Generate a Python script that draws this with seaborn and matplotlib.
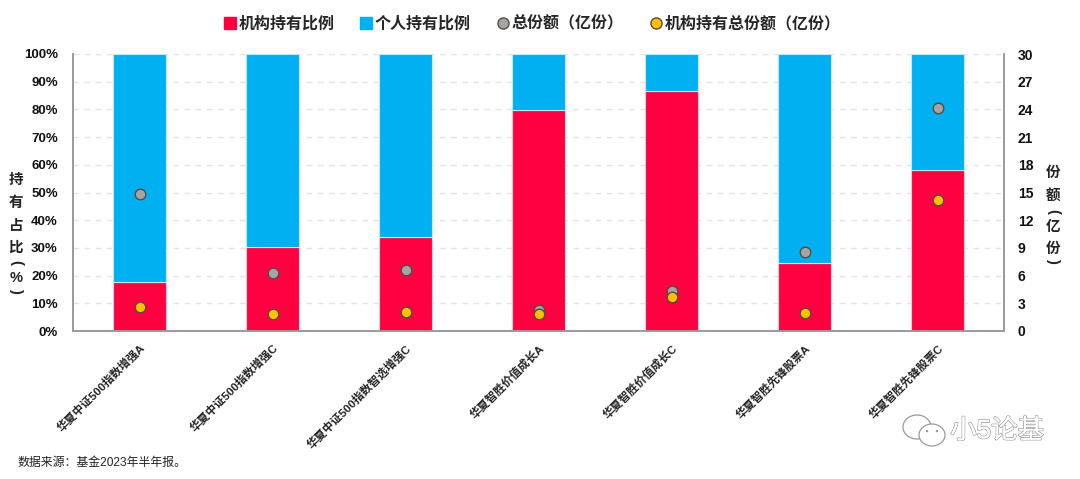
import matplotlib
matplotlib.use('Agg')
import matplotlib.pyplot as plt
import matplotlib.patheffects as pe
from matplotlib.lines import Line2D
from matplotlib.patches import Ellipse
import seaborn as sns
import pandas as pd

funds = ['华夏中证500指数增强A', '华夏中证500指数增强C', '华夏中证500指数智选增强C',
         '华夏智胜价值成长A', '华夏智胜价值成长C', '华夏智胜先锋股票A', '华夏智胜先锋股票C']
inst_pct = [17.7, 30.3, 33.8, 79.8, 86.5, 24.5, 58.3]
pers_pct = [82.3, 69.7, 66.2, 20.2, 13.5, 75.5, 41.7]
total_share = [14.8, 6.3, 6.6, 2.3, 4.3, 8.6, 24.2]
inst_share = [2.6, 1.8, 2.1, 1.8, 3.7, 2.0, 14.2]

RED = '#FF0040'
BLUE = '#00B0F0'
GREY = '#A5A5A5'
ORANGE = '#FFC000'
EDGE = '#5A4A42'
AXIS = '#9A9A9A'
FONT = ['Liberation Sans', 'Noto Sans CJK SC']

sns.set_theme(style='white')
plt.rcParams['font.family'] = FONT
plt.rcParams['font.weight'] = 'bold'
plt.rcParams['axes.unicode_minus'] = False

df = pd.DataFrame({'fund': funds, 'inst': inst_pct, 'pers': pers_pct,
                   'total': total_share, 'inst_total': inst_share})

W, H = 1080, 479
fig = plt.figure(figsize=(W / 100, H / 100), dpi=100)
ax = fig.add_axes([73 / W, 1 - 331 / H, (1004 - 73) / W, (331 - 54) / H])

# 堆叠柱
sns.barplot(data=df, x='fund', y='inst', color=RED, width=0.4, saturation=1,
            linewidth=0.8, edgecolor='#FFD0DC', ax=ax, zorder=2)
sns.barplot(data=df, x='fund', y='pers', bottom=df['inst'], color=BLUE, width=0.4, saturation=1,
            linewidth=0.8, edgecolor='#BFEBFB', ax=ax, zorder=2)

ax.set_xlim(-0.5, 6.5)
ax.set_ylim(0, 100)
ax.set_yticks(range(0, 101, 10))
ax.set_yticklabels([f'{v}%' for v in range(0, 101, 10)], fontsize=9.5, fontweight='bold', color='#111111')
ax.set_xlabel('')
ax.set_ylabel('')
ax.grid(axis='y', linestyle=(0, (4, 4)), color='#E3E3E3', linewidth=1)
ax.grid(axis='x', visible=False)
ax.set_axisbelow(True)
ax.tick_params(axis='y', length=0, pad=11)
ax.tick_params(axis='x', length=0, pad=8)
ax.set_xticks(range(len(funds)))
ax.set_xticklabels(funds, rotation=45, ha='right', va='top', rotation_mode='anchor',
                   fontsize=8.2, fontweight='bold', color='#222222')
ax.set_xticks([i + 0.5 for i in range(len(funds) - 1)], minor=True)
ax.tick_params(axis='x', which='minor', direction='in', length=4, color=AXIS, width=1)

# 右轴散点
ax2 = ax.twinx()
sns.scatterplot(data=df, x='fund', y='total', color=GREY, edgecolor=EDGE, linewidth=1,
                s=58, ax=ax2, zorder=3, legend=False)
sns.scatterplot(data=df, x='fund', y='inst_total', color=ORANGE, edgecolor=EDGE, linewidth=1,
                s=58, ax=ax2, zorder=4, legend=False)
ax2.set_ylim(0, 30)
ax2.set_yticks(range(0, 31, 3))
ax2.set_yticklabels([str(v) for v in range(0, 31, 3)], fontsize=10, fontweight='bold', color='#111111')
ax2.set_ylabel('')
ax2.set_xlabel('')
ax2.tick_params(axis='y', length=0, pad=10)
ax2.grid(False)

for a in (ax, ax2):
    a.spines['top'].set_visible(False)
    for side in ('left', 'right', 'bottom'):
        a.spines[side].set_color(AXIS)
        a.spines[side].set_linewidth(1.2)


# 竖排轴标题
def stacked(chars, ys, x):
    for ch, y in zip(chars, ys):
        rot = -90 if ch in '()' else 0
        fig.text(x / W, 1 - y / H, ch, ha='center', va='center', rotation=rot,
                 fontsize=10.5, fontweight='bold', color='#222222')


stacked('持有占比(%)', [180, 203, 226, 248, 262, 278, 290], 16)
stacked('份额(亿份)', [173, 196, 211, 227, 249, 260], 1053)

handles = [
    Line2D([], [], linestyle='none', marker='s', markersize=9, color=RED),
    Line2D([], [], linestyle='none', marker='s', markersize=9, color=BLUE),
    Line2D([], [], linestyle='none', marker='o', markersize=8, markerfacecolor=GREY, markeredgecolor=EDGE),
    Line2D([], [], linestyle='none', marker='o', markersize=8, markerfacecolor=ORANGE, markeredgecolor=EDGE),
]
names = ['机构持有比例', '个人持有比例', '总份额（亿份）', '机构持有总份额（亿份）']
fig.legend(handles, names, loc='center', bbox_to_anchor=(531 / W, 1 - 24 / H), ncol=4, frameon=False,
           prop={'size': 11.5, 'weight': 'bold'}, handletextpad=0.05, columnspacing=1.5, handlelength=1)

fig.text(17 / W, 1 - 463 / H, '数据来源：基金2023年半年报。', fontsize=8.6, fontweight='normal',
         color='#222222', va='center')

# 水印
for cx, cy, w, h in [(917, 427, 28, 24), (932, 435, 26, 22)]:
    fig.add_artist(Ellipse((cx / W, 1 - cy / H), w / W, h / H, transform=fig.transFigure,
                           facecolor='white', edgecolor='#9A9A9A', linewidth=0.9))
for cx, cy in [(927, 431), (937, 431)]:
    fig.add_artist(Ellipse((cx / W, 1 - cy / H), 2.5 / W, 2.5 / H, transform=fig.transFigure,
                           facecolor='#9A9A9A', edgecolor='none'))
fig.text(997 / W, 1 - 431 / H, '小5论基', fontsize=19, fontweight='normal', color='white',
         ha='center', va='center', path_effects=[pe.withStroke(linewidth=1.0, foreground='#8A8A8A'),
                                                 pe.Normal()])

fig.savefig('out.png', dpi=100)
